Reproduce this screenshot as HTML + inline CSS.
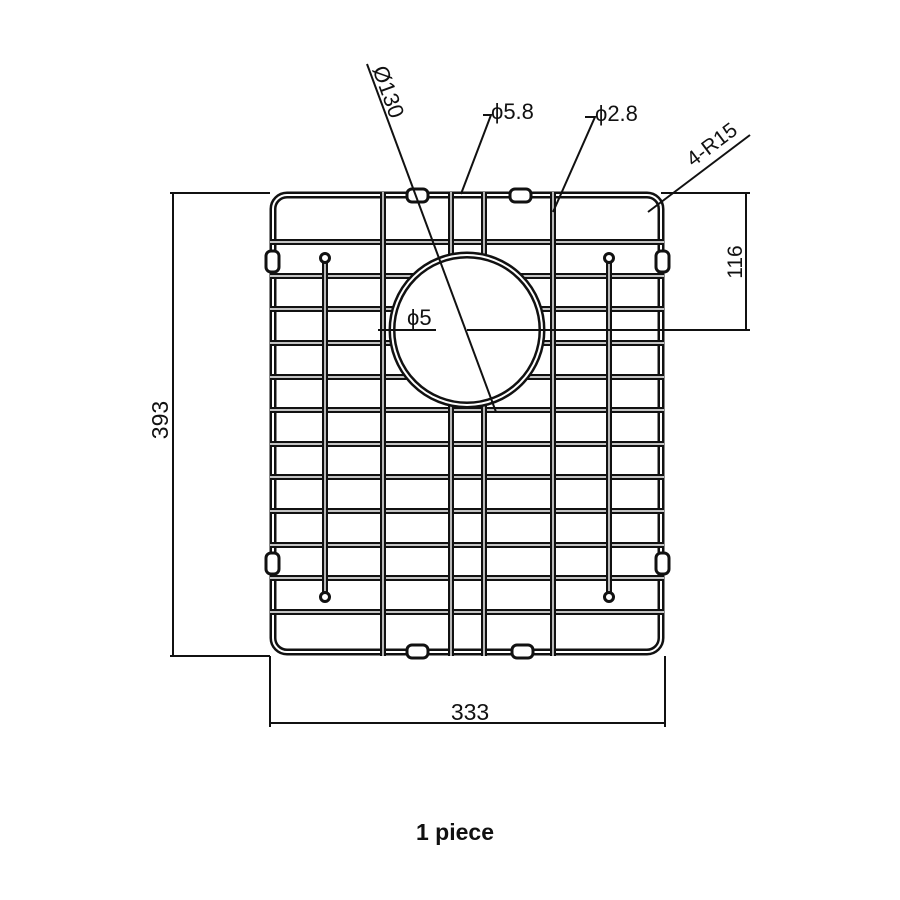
<!DOCTYPE html>
<html><head><meta charset="utf-8"><style>
html,body{margin:0;padding:0;background:#fff;}
svg{display:block}
text{font-family:"Liberation Sans",sans-serif;fill:#111}
</style></head><body>
<svg width="900" height="900" viewBox="0 0 900 900" xmlns="http://www.w3.org/2000/svg">
<defs>
<clipPath id="hole"><path d="M0 0H900V900H0Z M467 330 m-78 0 a78 78 0 1 0 156 0 a78 78 0 1 0 -156 0Z" clip-rule="evenodd"/></clipPath>
</defs>
<g fill="none" stroke-linecap="butt">
<g stroke="#111" stroke-width="7">
<rect x="273" y="195" width="388" height="457" rx="14"/>
</g>
<g stroke="#fff" stroke-width="2">
<rect x="273" y="195" width="388" height="457" rx="14"/>
</g>
<g clip-path="url(#hole)">
<g stroke="#111" stroke-width="6">
<path d="M270 242H664M270 276H664M270 309H664M270 343H664M270 377H664M270 410H664M270 444H664M270 477H664M270 511H664M270 545H664M270 578H664M270 612H664"/>
</g>
<g stroke="#fff" stroke-width="1.4">
<path d="M270 242H664M270 276H664M270 309H664M270 343H664M270 377H664M270 410H664M270 444H664M270 477H664M270 511H664M270 545H664M270 578H664M270 612H664"/>
</g>
<g stroke="#111" stroke-width="6">
<path d="M383 192V656M553 192V656M451 192V656M484 192V656M325 258V597M609 258V597"/>
</g>
<g stroke="#fff" stroke-width="1.4">
<path d="M383 192V656M553 192V656M451 192V656M484 192V656M325 258V597M609 258V597"/>
</g>
</g>
<circle cx="467" cy="330" r="75" stroke="#111" stroke-width="7"/>
<circle cx="467" cy="330" r="75" stroke="#fff" stroke-width="2"/>
<g stroke="#111" stroke-width="3" fill="#fff">
<circle cx="325" cy="258" r="4.5"/><circle cx="609" cy="258" r="4.5"/>
<circle cx="325" cy="597" r="4.5"/><circle cx="609" cy="597" r="4.5"/>
<rect x="407" y="189" width="21" height="13" rx="5"/>
<rect x="510" y="189" width="21" height="13" rx="5"/>
<rect x="407" y="645" width="21" height="13" rx="5"/>
<rect x="512" y="645" width="21" height="13" rx="5"/>
<rect x="266" y="251" width="13" height="21" rx="5"/>
<rect x="656" y="251" width="13" height="21" rx="5"/>
<rect x="266" y="553" width="13" height="21" rx="5"/>
<rect x="656" y="553" width="13" height="21" rx="5"/>
</g>
<g stroke="#111" stroke-width="2">
<path d="M170 193H270M170 656H270M173 193V656"/>
<path d="M270 656V727M665 656V727M270 723H665"/>
<path d="M661 193H750M467 330H750M746 193V330"/>
<path d="M367 64L496 412"/>
<path d="M483 115H491L461 194"/>
<path d="M585 117H595L553 212"/>
<path d="M750 135L648 212"/>
<path d="M378 330H436"/>
</g>
</g>
<text x="160" y="420" font-size="23" text-anchor="middle" transform="rotate(-90 160 420)" dy="8">393</text>
<text x="470" y="720" font-size="23" text-anchor="middle">333</text>
<text x="735" y="262" font-size="21" text-anchor="middle" transform="rotate(-90 735 262)" dy="7">116</text>
<text x="491" y="119" font-size="22">ϕ5.8</text>
<text x="595" y="121" font-size="22">ϕ2.8</text>
<text x="407" y="325" font-size="22">ϕ5</text>
<text x="388" y="92" font-size="22" text-anchor="middle" transform="rotate(70 388 92)" dy="7">Ø130</text>
<text x="716" y="150" font-size="21" text-anchor="middle" transform="rotate(-37 716 150)">4-R15</text>
<text x="455" y="840" font-size="23" font-weight="bold" text-anchor="middle">1 piece</text>
</svg>
</body></html>
